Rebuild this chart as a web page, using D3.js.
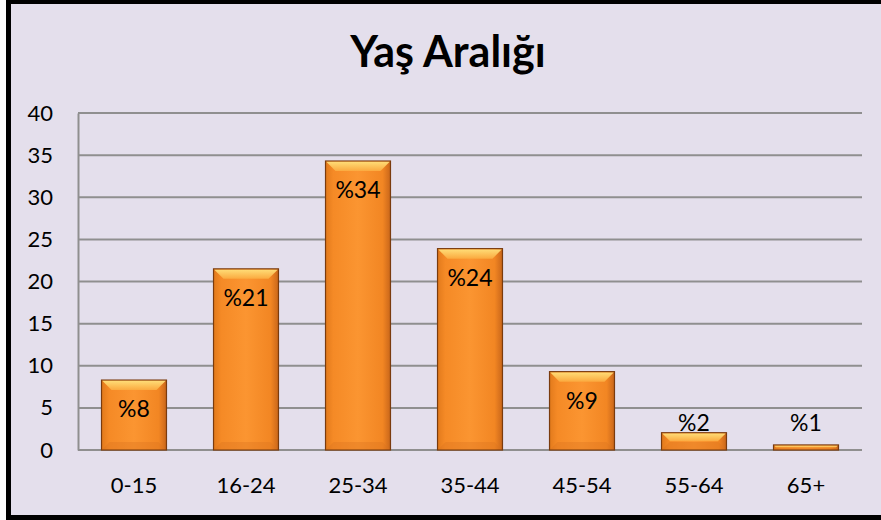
<!DOCTYPE html>
<html>
<head>
<meta charset="utf-8">
<script src="https://cdn.jsdelivr.net/npm/d3@7"></script>
<style>
  body { margin: 0; background: #ffffff; }
  svg { display: block; font-family: Lato, "Open Sans", sans-serif; }
</style>
</head>
<body>
<div id="chart"></div>
<script>
// Data
const categories = ["0-15", "16-24", "25-34", "35-44", "45-54", "55-64", "65+"];
const values = [8.3, 21.5, 34.3, 23.9, 9.3, 2.05, 0.6];
const labels = ["%8", "%21", "%34", "%24", "%9", "%2", "%1"];
const yTicks = [0, 5, 10, 15, 20, 25, 30, 35, 40];

const W = 881, H = 520;
const margin = {top: 113, right: 19, bottom: 70, left: 78};
const innerW = W - margin.left - margin.right;
const innerH = H - margin.top - margin.bottom;

const svg = d3.select("#chart").append("svg")
  .attr("width", W)
  .attr("height", H);

// gradients
const defs = svg.append("defs");
const grad = defs.append("linearGradient").attr("id", "barGrad")
  .attr("x1", "0%").attr("x2", "100%").attr("y1", "0%").attr("y2", "0%");
grad.append("stop").attr("offset", "0%").attr("stop-color", "#e27a1c");
grad.append("stop").attr("offset", "12%").attr("stop-color", "#f58a26");
grad.append("stop").attr("offset", "50%").attr("stop-color", "#fb9531");
grad.append("stop").attr("offset", "88%").attr("stop-color", "#f28623");
grad.append("stop").attr("offset", "100%").attr("stop-color", "#c9661a");

const topGrad = defs.append("linearGradient").attr("id", "topGrad")
  .attr("x1", "0%").attr("x2", "0%").attr("y1", "0%").attr("y2", "100%");
topGrad.append("stop").attr("offset", "0%").attr("stop-color", "#ffe07a");
topGrad.append("stop").attr("offset", "100%").attr("stop-color", "#fbab40");

// chart area background + border
svg.append("rect")
  .attr("x", 8.5).attr("y", 1.5)
  .attr("width", W + 20).attr("height", H - 4)
  .attr("fill", "#e4dfec")
  .attr("stroke", "#000")
  .attr("stroke-width", 5);

// title
svg.append("text")
  .attr("x", 448)
  .attr("y", 67)
  .attr("text-anchor", "middle")
  .style("font-size", "43px")
  .style("font-weight", "bold")
  .attr("fill", "#000")
  .text("Yaş Aralığı");

const g = svg.append("g")
  .attr("transform", "translate(" + margin.left + "," + margin.top + ")");

// scales
const x = d3.scaleBand().domain(categories).range([0, innerW]).paddingInner(0.42).paddingOuter(0.21);
const y = d3.scaleLinear().domain([0, 40]).range([innerH, 0]);

// gridlines
g.append("g").selectAll("line")
  .data(yTicks)
  .enter().append("line")
  .attr("x1", 0).attr("x2", innerW)
  .attr("y1", d => y(d)).attr("y2", d => y(d))
  .attr("stroke", "#8f8f8f")
  .attr("stroke-width", 2);

// y axis
const yAxis = g.append("g")
  .call(d3.axisLeft(y).tickValues(yTicks).tickSize(0).tickPadding(25));
yAxis.select(".domain").attr("stroke", "#8f8f8f").attr("stroke-width", 2);
yAxis.selectAll("text").style("font-size", "22px").attr("fill", "#000")
  .style("font-family", "Lato, 'Open Sans', sans-serif");

// x axis
const xAxis = g.append("g")
  .attr("transform", "translate(0," + innerH + ")")
  .call(d3.axisBottom(x).tickSize(0).tickPadding(27));
xAxis.select(".domain").remove();
xAxis.selectAll("text").style("font-size", "22px").attr("fill", "#000")
  .style("font-family", "Lato, 'Open Sans', sans-serif");

// bars
const bars = g.append("g").selectAll(".bar")
  .data(categories.map((c, i) => ({cat: c, value: values[i], label: labels[i]})))
  .enter().append("g")
  .attr("class", "bar");

bars.append("rect")
  .attr("x", d => x(d.cat))
  .attr("y", d => y(d.value))
  .attr("width", x.bandwidth())
  .attr("height", d => innerH - y(d.value))
  .attr("fill", "url(#barGrad)")
  .attr("stroke", "#7a3b0e")
  .attr("stroke-width", 1.2);

// top bevel
bars.append("path")
  .attr("d", d => {
    const x0 = x(d.cat), x1 = x0 + x.bandwidth(), t = y(d.value);
    const h = Math.min(10, (innerH - t) / 2);
    return "M" + (x0 + 0.8) + "," + (t + 0.8) + "L" + (x1 - 0.8) + "," + (t + 0.8) +
      "L" + (x1 - h) + "," + (t + h) + "L" + (x0 + h) + "," + (t + h) + "Z";
  })
  .attr("fill", "url(#topGrad)")
  .attr("opacity", 0.95);

// bottom bevel
bars.append("path")
  .attr("d", d => {
    const x0 = x(d.cat), x1 = x0 + x.bandwidth(), t = y(d.value), b = innerH;
    const h = Math.min(8, (b - t) / 2);
    return "M" + (x0 + 0.8) + "," + (b - 0.8) + "L" + (x1 - 0.8) + "," + (b - 0.8) +
      "L" + (x1 - h) + "," + (b - h) + "L" + (x0 + h) + "," + (b - h) + "Z";
  })
  .attr("fill", "#d9741f")
  .attr("opacity", 0.35);

// value labels
bars.append("text")
  .attr("x", d => x(d.cat) + x.bandwidth() / 2)
  .attr("y", d => (innerH - y(d.value)) > 40 ? y(d.value) + 29 : innerH - 27)
  .attr("dy", "0.35em")
  .attr("text-anchor", "middle")
  .style("font-size", "23px")
  .attr("fill", "#000")
  .text(d => d.label);
</script>
</body>
</html>
